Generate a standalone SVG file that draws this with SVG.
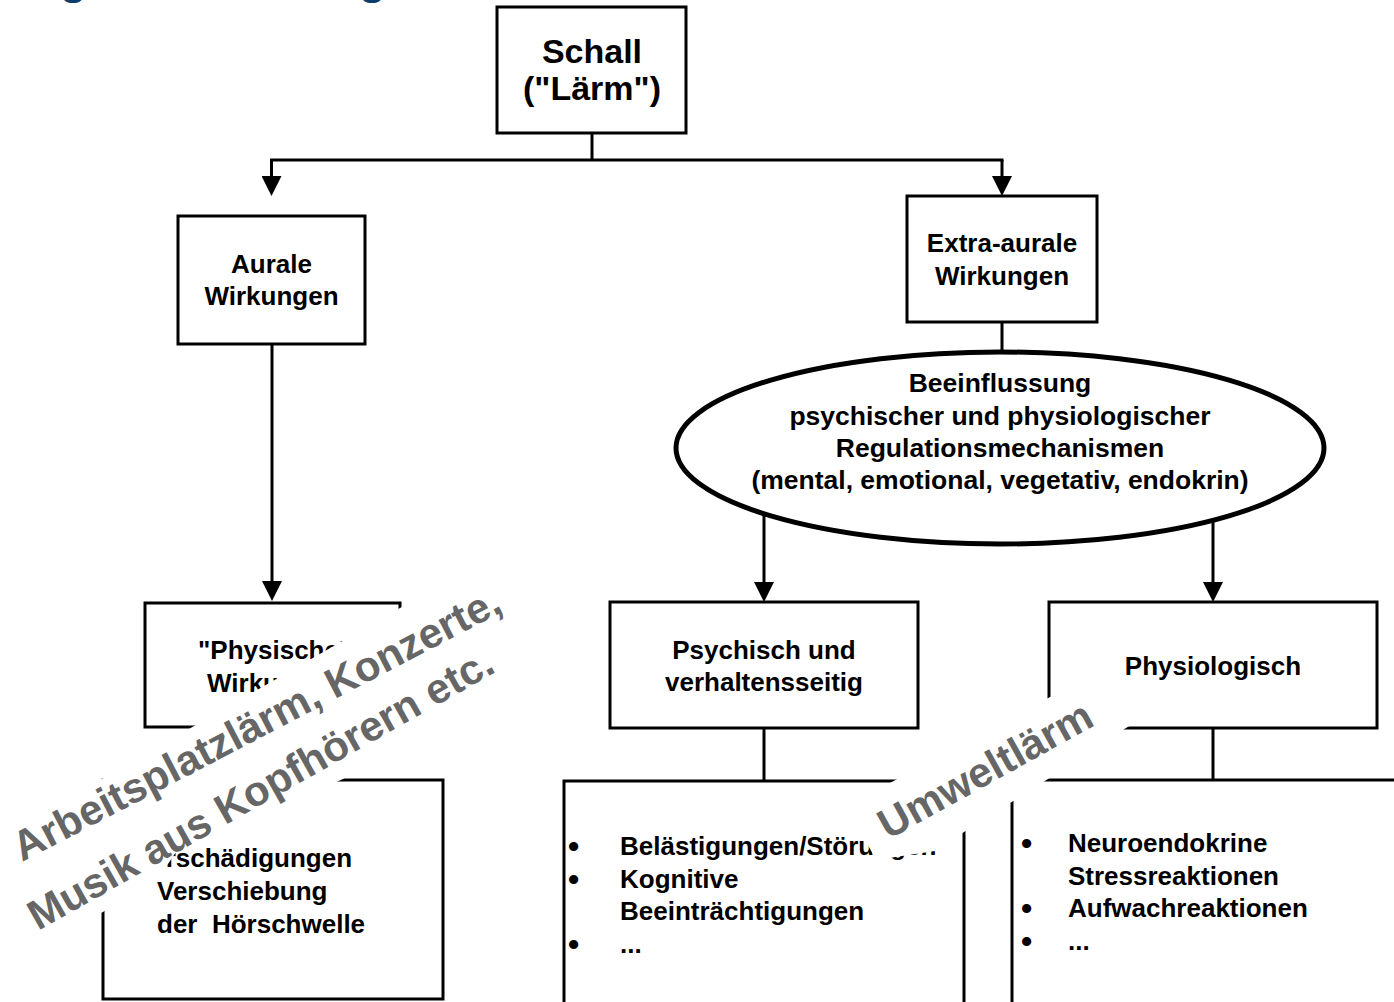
<svg xmlns="http://www.w3.org/2000/svg" width="1394" height="1002" viewBox="0 0 1394 1002">
<defs>
<style>
.box{fill:#fff;stroke:#000;stroke-width:3}
.ell{fill:#fff;stroke:#000;stroke-width:5}
.ln{fill:none;stroke:#000;stroke-width:3}
.t{font-family:"Liberation Sans",Arial,sans-serif;font-weight:bold;fill:#000;font-size:26px}
.b{font-size:32px}
.c{text-anchor:middle}
.big{font-size:34px}
.el{font-size:26.5px}
.wm{font-family:"Liberation Sans",Arial,sans-serif;font-weight:bold;fill:#666;font-size:42px}
.ko{fill:#fff;stroke:none}
.ttl{font-family:"Liberation Sans",Arial,sans-serif;font-weight:bold;fill:#0c3c6c;font-size:44px}
</style>
<marker id="ah" markerUnits="userSpaceOnUse" markerWidth="20" markerHeight="20" viewBox="0 0 20 20" refX="14" refY="10" orient="auto"><path d="M0,0 L20,10 L0,20 Z" fill="#000"/></marker>
</defs>
<rect width="1394" height="1002" fill="#fff"/>
<g id="title-fragment">
<text class="ttl" x="60" y="-6">g</text>
<text class="ttl" x="359" y="-6">g</text>
</g>
<g id="connectors">
<path class="ln" d="M592,133 V160"/>
<path class="ln" d="M270,160 H1003.5"/>
<path class="ln" d="M271.5,160 V190" marker-end="url(#ah)"/>
<path class="ln" d="M1002,160 V190" marker-end="url(#ah)"/>
<path class="ln" d="M272,344 V595" marker-end="url(#ah)"/>
<path class="ln" d="M1002,322 V360"/>
<path class="ln" d="M764,500 V596" marker-end="url(#ah)"/>
<path class="ln" d="M1213,500 V596" marker-end="url(#ah)"/>
<path class="ln" d="M764,728 V781"/>
<path class="ln" d="M1213,728 V780"/>
</g>
<g id="schall">
<rect class="box" x="497" y="7" width="189" height="126"/>
<text class="t c big" x="592" y="63">Schall</text>
<text class="t c big" x="592" y="100">("Lärm")</text>
</g>
<g id="aurale">
<rect class="box" x="178" y="216" width="187" height="128"/>
<text class="t c" x="271.5" y="273">Aurale</text>
<text class="t c" x="271.5" y="305">Wirkungen</text>
</g>
<g id="extra-aurale">
<rect class="box" x="907" y="196" width="190" height="126"/>
<text class="t c" x="1002" y="252">Extra-aurale</text>
<text class="t c" x="1002" y="285">Wirkungen</text>
</g>
<g id="regulation">
<ellipse class="ell" cx="1000" cy="448" rx="324" ry="96"/>
<text class="t c el" x="1000" y="392">Beeinflussung</text>
<text class="t c el" x="1000" y="425">psychischer und physiologischer</text>
<text class="t c el" x="1000" y="457">Regulationsmechanismen</text>
<text class="t c el" x="1000" y="489">(mental, emotional, vegetativ, endokrin)</text>
</g>
<g id="physische">
<rect class="box" x="145" y="603" width="255" height="124"/>
<text class="t" x="198" y="659">"Physische"</text>
<text class="t" x="207" y="692">Wirkungen</text>
</g>
<g id="psychisch">
<rect class="box" x="610" y="602" width="308" height="126"/>
<text class="t c" x="764" y="659">Psychisch und</text>
<text class="t c" x="764" y="691">verhaltensseitig</text>
</g>
<g id="physiologisch">
<rect class="box" x="1049" y="602" width="328" height="126"/>
<text class="t c" x="1213" y="675">Physiologisch</text>
</g>
<g id="hoerschaeden">
<rect class="box" x="103" y="780" width="340" height="219"/>
<text class="t" x="131" y="867">Hörschädigungen</text>
<text class="t" x="157" y="900">Verschiebung</text>
<text class="t" x="157" y="933" xml:space="preserve">der  Hörschwelle</text>
</g>
<g id="psychisch-liste">
<rect class="box" x="564" y="781" width="400" height="240"/>
<text class="t b" x="568" y="857">•</text>
<text class="t" x="620" y="855">Belästigungen/Störungen</text>
<text class="t b" x="568" y="890">•</text>
<text class="t" x="620" y="888">Kognitive</text>
<text class="t" x="620" y="920">Beeinträchtigungen</text>
<text class="t b" x="568" y="955">•</text>
<text class="t" x="620" y="953">...</text>
</g>
<g id="physiologisch-liste">
<rect class="box" x="1012" y="780" width="400" height="240"/>
<text class="t b" x="1021" y="854">•</text>
<text class="t" x="1068" y="852">Neuroendokrine</text>
<text class="t" x="1068" y="885">Stressreaktionen</text>
<text class="t b" x="1021" y="919">•</text>
<text class="t" x="1068" y="917">Aufwachreaktionen</text>
<text class="t b" x="1021" y="952">•</text>
<text class="t" x="1068" y="950">...</text>
</g>
<g id="watermark-arbeitsplatz">
<polygon class="ko" points="-10,843 400,608 520,539 575,640 545,660 343,779 200,842 178,849 168,864 150,878 103,912 -10,965"/>
<text class="wm" transform="translate(22,862) rotate(-27.5)" x="0" y="0">Arbeitsplatzlärm, Konzerte,</text>
<text class="wm" transform="translate(38,931) rotate(-29.5)" x="0" y="0">Musik aus Kopfhörern etc.</text>
</g>
<g id="watermark-umwelt">
<polygon class="ko" points="847,806 876,860 935,851 964,832 1048,779 1126,728 1136,722 1108,666"/>
<text class="wm" transform="translate(888,840) rotate(-29)" x="0" y="0">Umweltlärm</text>
</g>
</svg>
